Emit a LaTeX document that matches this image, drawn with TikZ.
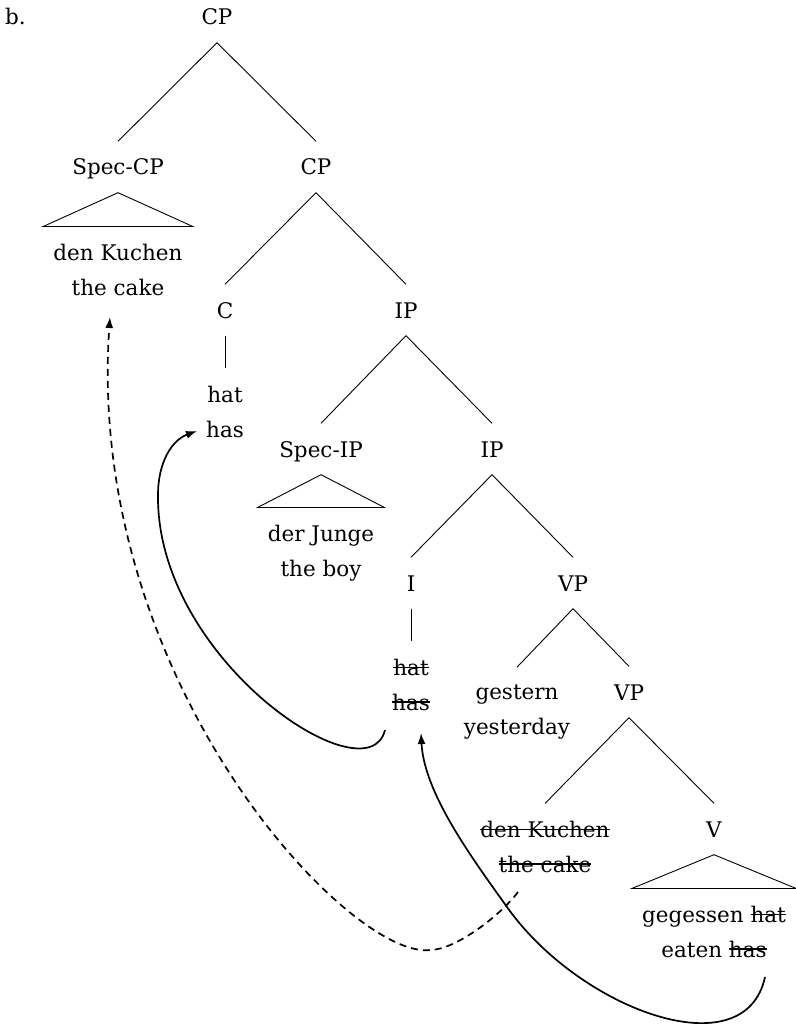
\documentclass[tikz,border=0pt]{standalone}
\usepackage{fontspec}
\setmainfont{DejaVu Serif}
\usetikzlibrary{arrows.meta}
% struck-out word: a rule across the middle of the x-height
\newcommand{\strk}[1]{\begingroup\setbox0=\hbox{#1}%
  \rlap{\vrule height 8.6pt depth -7.4pt width \wd0}\box0\endgroup}

\tikzset{
  treefont/.style={font=\fontsize{21.5}{34.5}\selectfont},
  cat/.style={treefont, anchor=base, text height=16pt, text depth=0pt,
              inner xsep=2pt, inner ysep=17.5pt},
  % two-line words, placed by the baseline of their last line
  leaf/.style={treefont, anchor=base, align=center, inner xsep=10pt, inner ysep=17.5pt},
  edge/.style={line width=0.9pt},
  move/.style={line width=1.7pt, -{Latex[length=11pt,width=8pt]}},
  trace/.style={move, dash pattern=on 7pt off 5pt},
}

\begin{document}
\begin{tikzpicture}[x=1pt,y=-1pt]
\useasboundingbox (0,0) rectangle (795,1024);

% example label
\node[treefont, anchor=base west, inner sep=0pt] (lbl) at (5,25) {b.};

% categories
\node[cat] (cp)     at (217,25)  {CP};
\node[cat] (speccp) at (118,175) {Spec-CP};
\node[cat] (cpbar)  at (316,175) {CP};
\node[cat] (c)      at (225,318) {C};
\node[cat] (ip)     at (406,318) {IP};
\node[cat] (specip) at (321,457) {Spec-IP};
\node[cat] (ipbar)  at (492,457) {IP};
\node[cat] (i)      at (411,591) {I};
\node[cat] (vp)     at (573,591) {VP};
\node[cat] (vpbar)  at (629,700) {VP};
\node[cat] (v)      at (714,837) {V};

% words
\node[leaf] (obj)  at (118,295) {den Kuchen\\the cake};
\node[leaf] (chat) at (225,437) {hat\\has};
\node[leaf] (subj) at (321,576) {der Junge\\the boy};
\node[leaf] (ihat) at (411,710) {\strk{hat}\\\strk{has}};
\node[leaf] (adv)  at (517,734) {gestern\\yesterday};
\node[leaf] (objt) at (545,872) {\strk{den Kuchen}\\\strk{the cake}};
\node[leaf] (verb) at (714,957) {gegessen \strk{hat}\\eaten \strk{has}};

% branches
\draw[edge] (cp.south) -- (speccp.north);
\draw[edge] (cp.south) -- (cpbar.north);
\draw[edge] (cpbar.south) -- (c.north);
\draw[edge] (cpbar.south) -- (ip.north);
\draw[edge] (c.south) -- (chat.north);
\draw[edge] (ip.south) -- (specip.north);
\draw[edge] (ip.south) -- (ipbar.north);
\draw[edge] (ipbar.south) -- (i.north);
\draw[edge] (ipbar.south) -- (vp.north);
\draw[edge] (i.south) -- (ihat.north);
\draw[edge] (vp.south) -- (adv.north);
\draw[edge] (vp.south) -- (vpbar.north);
\draw[edge] (vpbar.south) -- (objt.north);
\draw[edge] (vpbar.south) -- (v.north);

% triangles over phrases
\draw[edge] (speccp.south) -- (obj.north west) -- (obj.north east) -- cycle;
\draw[edge] (specip.south) -- (subj.north west) -- (subj.north east) -- cycle;
\draw[edge] (v.south) -- (verb.north west) -- (verb.north east) -- cycle;

% movement
\draw[move] ([shift={(-26,20)}]ihat.base)
  .. controls (368,800) and (156,660) .. (158,495)
  .. controls (158,462) and (172,440) .. ([shift={(-28,-6)}]chat.base);
\draw[move] ([shift={(51,20)}]verb.base)
  .. controls (745,1070) and (580,1010) .. (507,907)
  .. controls (472,858) and (424,793) .. ([shift={(10,23)}]ihat.base);
\draw[trace] ([shift={(-27,20)}]objt.base)
  .. controls (500,916) and (455,950) .. (430,950)
  .. controls (350,960) and (85,680) .. ([shift={(-8,22)}]obj.base);
\end{tikzpicture}
\end{document}
